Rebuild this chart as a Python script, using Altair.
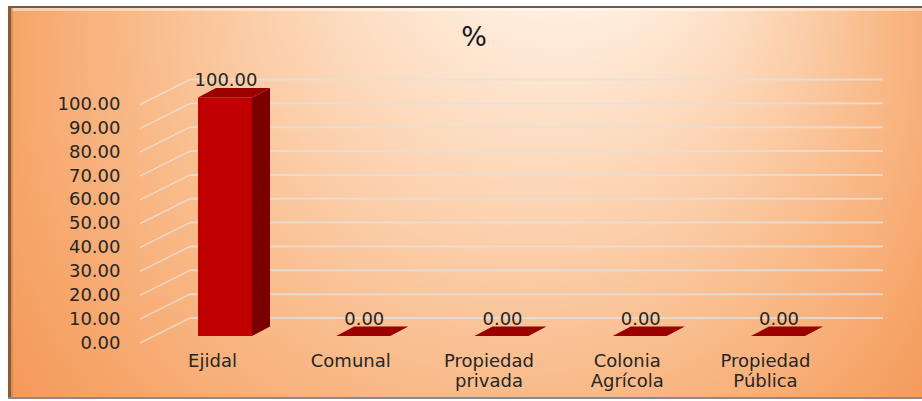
import json

import altair as alt
import pandas as pd

# ---- data -------------------------------------------------------------
categories = ["Ejidal", "Comunal", "Propiedad privada", "Colonia Agrícola", "Propiedad Pública"]
values = [100.0, 0.0, 0.0, 0.0, 0.0]
label_lines = [["Ejidal"], ["Comunal"], ["Propiedad", "privada"], ["Colonia", "Agrícola"], ["Propiedad", "Pública"]]
y_ticks = [0, 10, 20, 30, 40, 50, 60, 70, 80, 90, 100]

# ---- geometry (pixel sizes converted into scale units) ----------------
W, H = 760, 283
PX_X = 138.25          # pixels per category step
PX_Y = 2.385           # pixels per percentage point
X_MIN = -72 / PX_X
X_MAX = X_MIN + W / PX_X
Y_MAX = H / PX_Y

FACE_L, FACE_R = -14 / PX_X, 40 / PX_X      # front face of a column
DEPTH_X, DEPTH_Y = 18 / PX_X, 9.5 / PX_Y    # 3-D depth of a column
BASE = 7 / PX_Y                              # columns stand slightly behind the front edge
WALL_X0, WALL_X1 = -22 / PX_X, 671 / PX_X   # back wall span
WALL_DY = 25 / PX_Y                          # back wall lift

FONT = "DejaVu Sans"
TEXT = "#262626"
xs = alt.Scale(domain=[X_MIN, X_MAX], nice=False, zero=False)
ys = alt.Scale(domain=[0, Y_MAX], nice=False, zero=False)

# one shared axis definition per direction, reused by every layer;
# zindex 1 keeps the labels above the backdrop
label_expr = json.dumps(label_lines, ensure_ascii=False) + "[datum.value]"
x_axis = alt.Axis(
    values=list(range(len(categories))), labelExpr=label_expr, title=None,
    grid=False, ticks=False, domain=False, labelFont=FONT, labelFontSize=18,
    labelColor=TEXT, labelBaseline="top", labelPadding=9, labelLineHeight=20,
    labelFlush=False, labelOverlap=False, labelAlign="center", zindex=1,
)
y_axis = alt.Axis(
    values=y_ticks, format=".2f", title=None, grid=False, ticks=False, domain=False,
    labelFont=FONT, labelFontSize=18, labelColor=TEXT, labelPadding=20,
    labelFlush=False, labelOverlap=False, zindex=1,
)


def X(field, **kw):
    return alt.X(field, scale=xs, axis=x_axis, **kw)


def Y(field, **kw):
    return alt.Y(field, scale=ys, axis=y_axis, **kw)


# ---- tables built from the arrays --------------------------------------
front = pd.DataFrame({
    "cat": categories,
    "x0": [i + FACE_L for i in range(len(categories))],
    "x1": [i + FACE_R for i in range(len(categories))],
    "y0": [BASE] * len(categories),
    "y1": [BASE + v for v in values],
    "lx": [i + (FACE_L + FACE_R) / 2 + 1 / PX_X for i in range(len(categories))],
    "ly": [BASE + v + DEPTH_Y for v in values],
    "txt": [f"{v:.2f}" for v in values],
})

side_rows, top_rows = [], []
for i, (c, v) in enumerate(zip(categories, values)):
    side_rows.append({"cat": c, "x": i + FACE_R, "ylo": BASE, "yhi": BASE + v})
    side_rows.append({"cat": c, "x": i + FACE_R + DEPTH_X, "ylo": BASE + DEPTH_Y, "yhi": BASE + v + DEPTH_Y})
    top_rows.append({"cat": c, "y": BASE + v, "xl": i + FACE_L, "xr": i + FACE_R})
    top_rows.append({"cat": c, "y": BASE + v + DEPTH_Y, "xl": i + FACE_L + DEPTH_X, "xr": i + FACE_R + DEPTH_X})
side = pd.DataFrame(side_rows)
top = pd.DataFrame(top_rows)

grid = pd.DataFrame({
    "v": y_ticks,
    "yb": [t + WALL_DY for t in y_ticks],
    "xa": [X_MIN] * len(y_ticks),
    "xb": [WALL_X0] * len(y_ticks),
    "xc": [WALL_X1] * len(y_ticks),
})

one = alt.Data(values=[{"k": 0}])

# ---- backdrop -----------------------------------------------------------
bg_fill = alt.RadialGradient(
    gradient="radial",
    x1=0.64, y1=0.08, r1=0.0,
    x2=0.49, y2=0.45, r2=0.66,
    stops=[
        alt.GradientStop(offset=0.0, color="#FFFFFF"),
        alt.GradientStop(offset=0.15, color="#FFF5EA"),
        alt.GradientStop(offset=0.35, color="#FDDCC0"),
        alt.GradientStop(offset=0.6, color="#F9BC8C"),
        alt.GradientStop(offset=0.8, color="#F6A468"),
        alt.GradientStop(offset=1.0, color="#F28A4A"),
    ],
)
backdrop = alt.Chart(one).mark_rect(fill=bg_fill).encode(
    x=alt.value(-132), x2=alt.value(782), y=alt.value(-54), y2=alt.value(337)
)
edge_top = alt.Chart(one).mark_rule(color="#6F5B50", strokeWidth=2).encode(
    x=alt.value(-132), x2=alt.value(782), y=alt.value(-53)
)
edge_glow = alt.Chart(one).mark_rule(color="#FFFFFF", strokeWidth=3, opacity=0.45).encode(
    x=alt.value(-129), x2=alt.value(782), y=alt.value(-50.5)
)
edge_left = alt.Chart(one).mark_rule(color="#8B5A33", strokeWidth=3).encode(
    x=alt.value(-130.5), y=alt.value(-54), y2=alt.value(337)
)
edge_left2 = alt.Chart(one).mark_rule(color="#C9834E", strokeWidth=2, opacity=0.6).encode(
    x=alt.value(-128), y=alt.value(-52), y2=alt.value(337)
)
edge_bottom = alt.Chart(one).mark_rule(color="#8A8A8A", strokeWidth=2).encode(
    x=alt.value(-132), x2=alt.value(782), y=alt.value(338)
)

# ---- walls ----------------------------------------------------------------
wall_lines = alt.Chart(grid).mark_rule(color="#E4E0DC", strokeWidth=2, opacity=0.8).encode(
    x=X("xb:Q"), x2="xc:Q", y=Y("yb:Q"),
)
side_lines = alt.Chart(grid).mark_rule(color="#E8E4E0", strokeWidth=1.5, opacity=0.75).encode(
    x=X("xa:Q"), x2="xb:Q", y=Y("v:Q"), y2="yb:Q",
)

# ---- 3-D columns --------------------------------------------------------------
face = alt.Chart(front).mark_rect(color="#C00000").encode(
    x=X("x0:Q"), x2="x1:Q", y=Y("y0:Q"), y2="y1:Q",
)
flank = alt.Chart(side).mark_area(color="#7A0000", orient="vertical").encode(
    x=X("x:Q"), y=Y("yhi:Q", stack=None), y2="ylo:Q", detail="cat:N",
)
cap = alt.Chart(top).mark_area(color="#9A0000", orient="horizontal").encode(
    y=Y("y:Q"), x=X("xl:Q", stack=None), x2="xr:Q", detail="cat:N",
)
value_labels = alt.Chart(front).mark_text(
    font=FONT, fontSize=18, color=TEXT, baseline="alphabetic", dy=-2
).encode(
    x=X("lx:Q"), y=Y("ly:Q"), text="txt:N",
)

heading = alt.Chart(one).mark_text(
    text="%", font=FONT, fontSize=27, color="#1A1A1A", baseline="alphabetic", align="center"
).encode(x=alt.value(334), y=alt.value(-14))

chart = alt.layer(
    backdrop, edge_top, edge_glow, edge_left, edge_left2, edge_bottom,
    wall_lines, side_lines, face, flank, cap, value_labels, heading,
).properties(
    width=W, height=H,
    padding={"left": 140, "top": 60, "right": 22, "bottom": 58},
    autosize=alt.AutoSizeParams(type="none"),
    background="#FFFFFF",
).configure_view(stroke=None)

chart.save("out.html", embed_options={"renderer": "svg", "actions": False})
